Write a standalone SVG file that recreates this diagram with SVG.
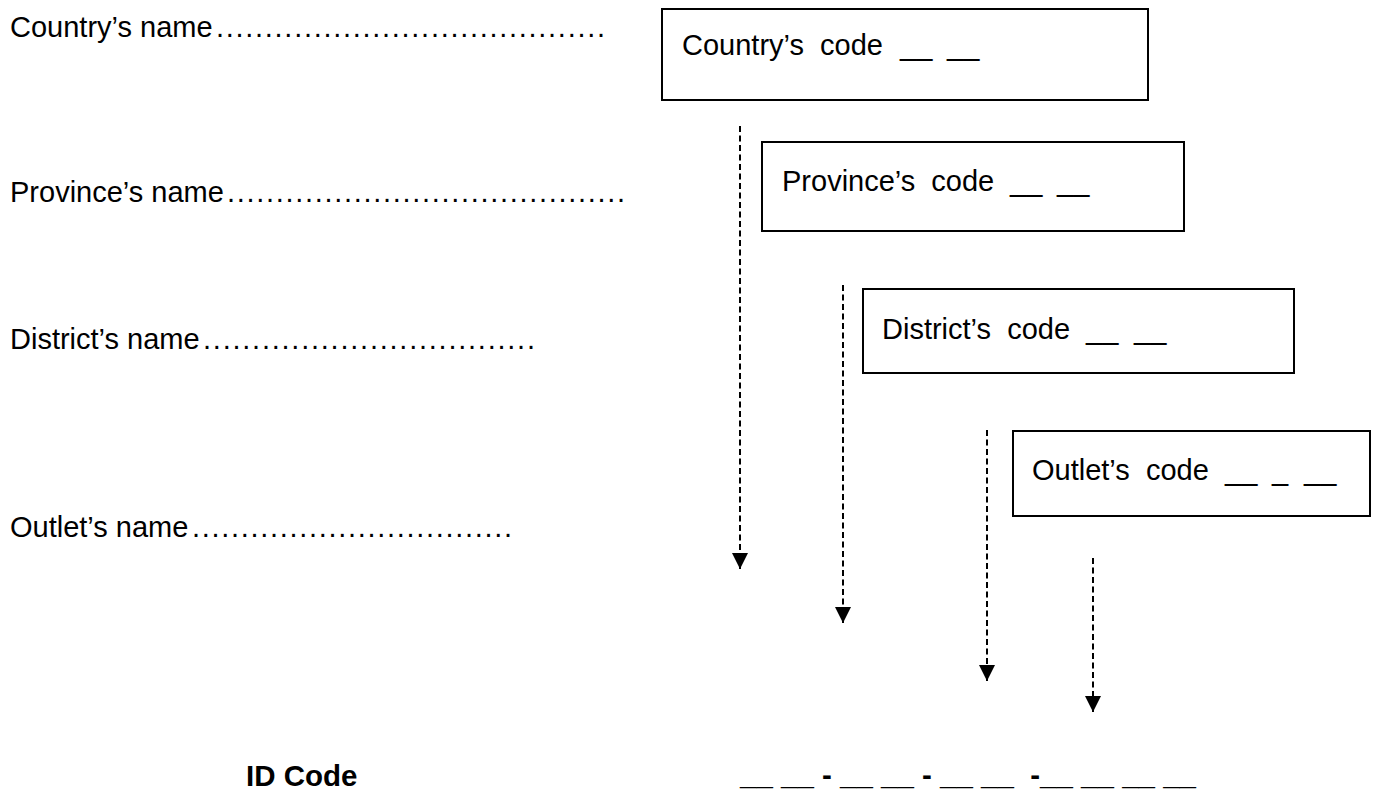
<svg xmlns="http://www.w3.org/2000/svg" width="1373" height="791" viewBox="0 0 1373 791">
<style>
text{font-family:"Liberation Sans",Arial,sans-serif;fill:#000;white-space:pre}
.lbl{font-size:29px}
.box{fill:#fff;stroke:#000;stroke-width:2}
.bt{font-size:29px}
.bold{font-size:29.5px;font-weight:bold}
.conn{stroke:#000;stroke-width:2;stroke-dasharray:6 3.5;fill:none}
</style>
<defs>
<marker id="ah" markerUnits="userSpaceOnUse" markerWidth="16" markerHeight="16" refX="16" refY="8" orient="auto" viewBox="0 0 16 16">
<path d="M0,0 L16,8 L0,16 z" fill="#000"/>
</marker>
</defs>
<rect width="1373" height="791" fill="#fff"/>
<g id="labels">
<text class="lbl" x="10" y="37">Country’s name</text>
<text class="lbl" x="216" y="37" textLength="389" lengthAdjust="spacing">........................................</text>
<text class="lbl" x="10" y="202">Province’s name</text>
<text class="lbl" x="227" y="202" textLength="398" lengthAdjust="spacing">.........................................</text>
<text class="lbl" x="10" y="349">District’s name</text>
<text class="lbl" x="203" y="349" textLength="332" lengthAdjust="spacing">..................................</text>
<text class="lbl" x="10" y="537">Outlet’s name</text>
<text class="lbl" x="192" y="537" textLength="320" lengthAdjust="spacing">.................................</text>
</g>
<g id="country-code">
<rect class="box" x="662" y="9" width="486" height="91"/>
<text class="bt" x="682" y="55" xml:space="preserve">Country’s  code<tspan x="900">__</tspan><tspan x="947">__</tspan></text>
</g>
<g id="province-code">
<rect class="box" x="762" y="142" width="422" height="89"/>
<text class="bt" x="782" y="191" xml:space="preserve">Province’s  code<tspan x="1010">__</tspan><tspan x="1057">__</tspan></text>
</g>
<g id="district-code">
<rect class="box" x="863" y="289" width="431" height="84"/>
<text class="bt" x="882" y="339" xml:space="preserve">District’s  code<tspan x="1086">__</tspan><tspan x="1134">__</tspan></text>
</g>
<g id="outlet-code">
<rect class="box" x="1013" y="431" width="357" height="85"/>
<text class="bt" x="1032" y="480" xml:space="preserve">Outlet’s  code<tspan x="1225">__</tspan><tspan x="1272">_</tspan><tspan x="1304">__</tspan></text>
</g>
<g id="connectors">
<line class="conn" x1="740" y1="126" x2="740" y2="569" marker-end="url(#ah)"/>
<line class="conn" x1="843" y1="285" x2="843" y2="623" marker-end="url(#ah)"/>
<line class="conn" x1="987" y1="430" x2="987" y2="681" marker-end="url(#ah)"/>
<line class="conn" x1="1093" y1="558" x2="1093" y2="712" marker-end="url(#ah)"/>
</g>
<g id="id-code">
<text class="bold" x="246" y="786">ID Code</text>
<text class="bold" x="740" y="785" xml:space="preserve">__ __ - __ __ - __ __  -__ __ __ __</text>
</g>
</svg>
